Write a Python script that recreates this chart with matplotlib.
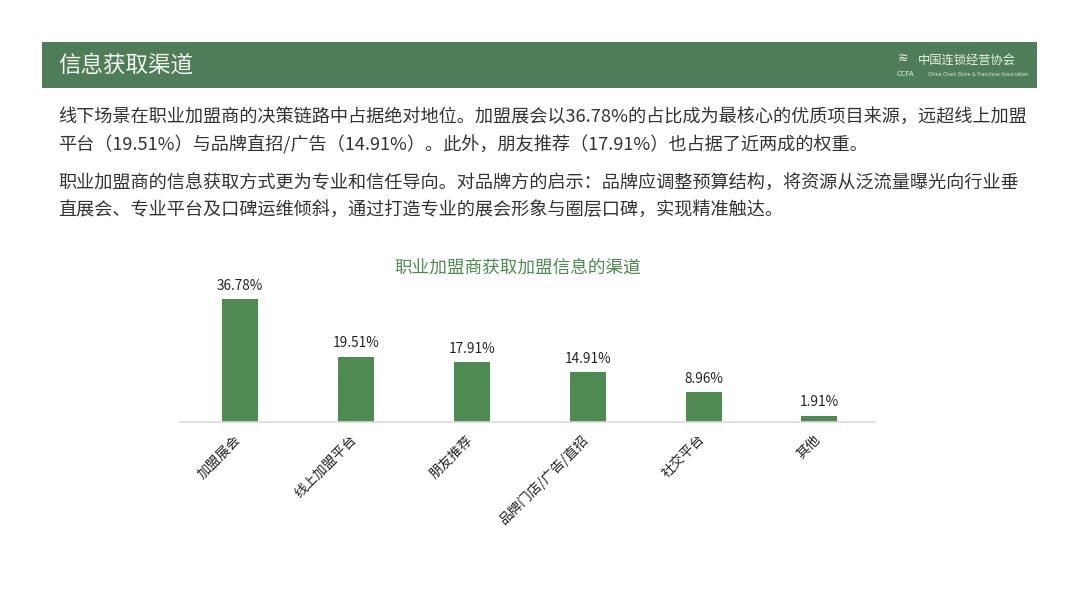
import matplotlib
matplotlib.use("Agg")
import matplotlib.pyplot as plt
from matplotlib.patches import Rectangle

plt.rcParams['font.family'] = ['Noto Sans CJK SC', 'DejaVu Sans']

categories = ["加盟展会", "线上加盟平台", "朋友推荐", "品牌门店/广告/直招", "社交平台", "其他"]
values = [36.78, 19.51, 17.91, 14.91, 8.96, 1.91]
value_labels = ["36.78%", "19.51%", "17.91%", "14.91%", "8.96%", "1.91%"]

header_title = "信息获取渠道"
chart_title = "职业加盟商获取加盟信息的渠道"
paragraphs = [
    "线下场景在职业加盟商的决策链路中占据绝对地位。加盟展会以36.78%的占比成为最核心的优质项目来源，远超线上加盟",
    "平台（19.51%）与品牌直招/广告（14.91%）。此外，朋友推荐（17.91%）也占据了近两成的权重。",
    "职业加盟商的信息获取方式更为专业和信任导向。对品牌方的启示：品牌应调整预算结构，将资源从泛流量曝光向行业垂",
    "直展会、专业平台及口碑运维倾斜，通过打造专业的展会形象与圈层口碑，实现精准触达。",
]

W, H = 1080, 608
fig = plt.figure(figsize=(W / 100, H / 100), dpi=100)
fig.patch.set_facecolor("white")

# background axes in pixel coordinates (y from top)
bg = fig.add_axes([0, 0, 1, 1])
bg.set_xlim(0, W)
bg.set_ylim(H, 0)
bg.axis("off")

header_color = "#4f7d58"
bg.add_patch(Rectangle((42, 42), 995, 46, facecolor=header_color, edgecolor="none"))
bg.text(58, 65, header_title, color="#f4f4f4", fontsize=16.2, va="center", ha="left")

# logo (text-based)
bg.text(898, 58, "≋", color="#e8efe8", fontsize=9, va="center", ha="left", family="DejaVu Sans")
bg.text(918, 60, "中国连锁经营协会", color="#e8efe8", fontsize=8.8, va="center", ha="left")
bg.text(897, 74, "CCFA", color="#e8efe8", fontsize=5, va="center", ha="left", family="DejaVu Sans")
bg.text(928, 74, "China Chain Store & Franchise Association", color="#dfe8df", fontsize=3.4,
        va="center", ha="left", family="DejaVu Sans")

para_y = [118, 145, 184, 211]
for y, t in zip(para_y, paragraphs):
    bg.text(58, y, t, color="#333333", fontsize=13.1, va="center", ha="left")

# chart axes
ax_left, ax_right = 180, 875
ax_bottom, ax_top = 422, 288
ax = fig.add_axes([ax_left / W, 1 - ax_bottom / H, (ax_right - ax_left) / W, (ax_bottom - ax_top) / H])
ax.set_facecolor("none")
x = list(range(len(categories)))
bars = ax.bar(x, values, width=0.31, color="#4f8a52")
ax.set_xlim(-0.52, len(categories) - 0.52)
ax.set_ylim(0, 40)
for spine in ["top", "right", "left"]:
    ax.spines[spine].set_visible(False)
ax.spines["bottom"].set_color("#d9d9d9")
ax.spines["bottom"].set_linewidth(1.2)
ax.set_yticks([])
ax.set_xticks(x)
ax.set_xticklabels([])
ax.tick_params(axis="x", length=0)

for xi, v, lab in zip(x, values, value_labels):
    ax.annotate(lab, (xi, v), xytext=(0, 4.5), textcoords="offset points",
                ha="center", va="bottom", fontsize=9.8, color="#222222")

for xi, cat in zip(x, categories):
    ax.annotate(cat, (xi, 0), xytext=(-1, -11), textcoords="offset points",
                ha="right", va="center", rotation=45, rotation_mode="anchor",
                fontsize=9.8, color="#222222")

fig.text(518 / W, 1 - 269 / H, chart_title, color="#4f8a52", fontsize=12.7, ha="center", va="center")

fig.savefig("out.png", dpi=100, facecolor="white")
